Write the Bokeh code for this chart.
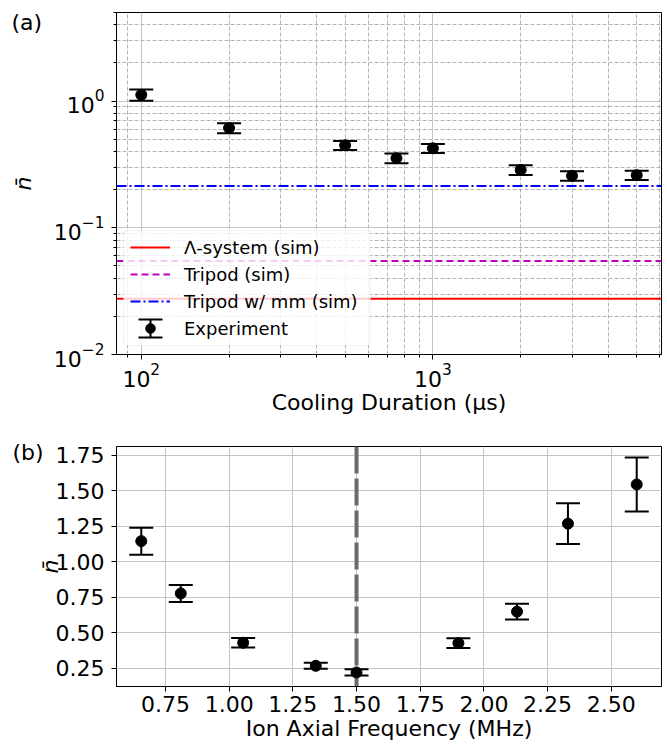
import math
from bokeh.plotting import figure
from bokeh.layouts import column
from bokeh.models import (ColumnDataSource, Whisker, TeeHead, Legend, LegendItem, Title, Arrow,
                          BoxAnnotation, FixedTicker, NumeralTickFormatter, LogTickFormatter, Span,
                          Range1d)
from bokeh.embed import file_html
from bokeh.resources import INLINE

FONT = "DejaVu Sans"

# ---------------- data: panel (a) ----------------
cool_time_us = [100, 200, 500, 750, 1000, 2000, 3000, 5000]
cool_nbar = [1.12, 0.613, 0.448, 0.354, 0.424, 0.286, 0.257, 0.260]
cool_err = [0.115, 0.055, 0.037, 0.031, 0.035, 0.025, 0.022, 0.022]
lambda_sim = 0.0275
tripod_sim = 0.0547
tripod_mm_sim = 0.214
top_y_limits = [0.01, 5.0]
a_xticks = [100, 1000]
a_yticks = [0.01, 0.1, 1.0]
a_xminor = [m * 10 ** k for k in (1, 2, 3) for m in range(2, 10)]
a_yminor = [m * 10 ** k for k in (-2, -1, 0) for m in range(2, 10)]

# ---------------- data: panel (b) ----------------
freq_mhz = [0.655, 0.81, 1.055, 1.34, 1.50, 1.90, 2.13, 2.33, 2.60]
freq_nbar = [1.145, 0.777, 0.430, 0.268, 0.221, 0.427, 0.649, 1.268, 1.544]
freq_err = [0.095, 0.060, 0.034, 0.021, 0.022, 0.034, 0.055, 0.143, 0.190]
resonance_mhz = 1.5
b_xticks = [0.75, 1.00, 1.25, 1.50, 1.75, 2.00, 2.25, 2.50]
b_yticks = [0.25, 0.50, 0.75, 1.00, 1.25, 1.50, 1.75]

TICK_PX = "22px"
LEG_PX = "18px"


def style_axes(p):
    for ax in (p.xaxis[0], p.yaxis[0]):
        ax.major_label_text_font = FONT
        ax.major_label_text_font_size = TICK_PX
        ax.major_label_text_color = "black"
        ax.axis_label_text_font = FONT
        ax.axis_label_text_font_size = TICK_PX
        ax.axis_label_text_color = "black"
        ax.axis_line_color = "black"
        ax.major_tick_line_color = "black"
        ax.minor_tick_line_color = "black"
        ax.major_tick_out = 5
        ax.major_tick_in = 0
        ax.minor_tick_out = 3
        ax.minor_tick_in = 0
    p.xaxis.major_label_standoff = 3
    p.yaxis.major_label_standoff = 7
    p.xaxis.axis_label_text_font_style = "normal"
    p.yaxis.axis_label_text_font_style = "italic"
    p.outline_line_color = "black"
    p.outline_line_width = 1
    p.background_fill_color = "white"
    p.border_fill_color = "white"


def panel_tag(p, text, offset, standoff):
    p.add_layout(Title(text=text, align="left", offset=offset, standoff=standoff,
                       text_font=FONT, text_font_size=TICK_PX, text_font_style="normal",
                       text_color="black"), "above")


# ================= panel (a) =================
lx = [math.log10(v) for v in cool_time_us]
span = max(lx) - min(lx)
x_lo = 10 ** (min(lx) - 0.05 * span)
x_hi = 10 ** (max(lx) + 0.05 * span)

p1 = figure(width=667, height=420, x_axis_type="log", y_axis_type="log",
            x_range=Range1d(x_lo, x_hi), y_range=Range1d(*top_y_limits),
            output_backend="svg", toolbar_location=None,
            min_border_left=115, min_border_right=5, min_border_top=12, min_border_bottom=66)
style_axes(p1)
p1.xaxis.ticker = FixedTicker(ticks=a_xticks, minor_ticks=a_xminor)
p1.yaxis.ticker = FixedTicker(ticks=a_yticks, minor_ticks=a_yminor)
p1.xaxis.formatter = LogTickFormatter()
p1.yaxis.formatter = LogTickFormatter()
for g in (p1.xgrid[0], p1.ygrid[0]):
    g.grid_line_color = "#c4c4c4"
    g.grid_line_width = 1
    g.minor_grid_line_color = "#b4b4b4"
    g.minor_grid_line_width = 1
    g.minor_grid_line_dash = "4 2"

r_lam = p1.line([x_lo, x_hi], [lambda_sim, lambda_sim], line_color="#ff0000", line_width=2)
r_tri = p1.line([x_lo, x_hi], [tripod_sim, tripod_sim], line_color="#bf00bf", line_width=2,
                line_dash="7 4")
r_mm = p1.line([x_lo, x_hi], [tripod_mm_sim, tripod_mm_sim], line_color="#0000ff", line_width=2,
               line_dash="10 3 2 3")

src1 = ColumnDataSource(dict(x=cool_time_us, y=cool_nbar,
                             lo=[a - b for a, b in zip(cool_nbar, cool_err)],
                             hi=[a + b for a, b in zip(cool_nbar, cool_err)]))
p1.add_layout(Whisker(base="x", lower="lo", upper="hi", source=src1, line_color="black", line_width=2,
                      lower_head=TeeHead(size=24, line_width=2, line_color="black"),
                      upper_head=TeeHead(size=24, line_width=2, line_color="black")))
r_exp = p1.scatter("x", "y", source=src1, size=11, color="black")

# legend frame (semi-transparent), then the error-bar symbol, then the legend entries
p1.add_layout(BoxAnnotation(left=7, right=254, bottom=9, top=124,
                            left_units="screen", right_units="screen",
                            bottom_units="screen", top_units="screen",
                            fill_color="white", fill_alpha=0.8,
                            line_color="#d4d4d4", line_width=1, border_radius=4))
p1.add_layout(Arrow(x_start=34, y_start=17, x_end=34, y_end=35, start_units="screen", end_units="screen",
                    line_color="black", line_width=2,
                    start=TeeHead(size=24, line_width=2, line_color="black"),
                    end=TeeHead(size=24, line_width=2, line_color="black")))
leg = Legend(items=[LegendItem(label="Λ-system (sim)", renderers=[r_lam]),
                    LegendItem(label="Tripod (sim)", renderers=[r_tri]),
                    LegendItem(label="Tripod w/ mm (sim)", renderers=[r_mm]),
                    LegendItem(label="Experiment", renderers=[r_exp])],
             location="bottom_left", margin=14, padding=0, spacing=3,
             glyph_width=40, glyph_height=24, label_height=24, label_standoff=14,
             label_text_font=FONT, label_text_font_size=LEG_PX, label_text_color="black",
             background_fill_alpha=0, border_line_color=None)
p1.add_layout(leg, "center")

p1.yaxis.axis_label = "n̄"
p1.yaxis.axis_label_standoff = 15
p1.xaxis.axis_label = "Cooling Duration (μs)"
p1.xaxis.axis_label_standoff = 0
panel_tag(p1, "(a)", -105, -44)

# ================= panel (b) =================
lows = [a - b for a, b in zip(freq_nbar, freq_err)]
highs = [a + b for a, b in zip(freq_nbar, freq_err)]
xs = max(freq_mhz) - min(freq_mhz)
ys = max(highs) - min(lows)
p2 = figure(width=667, height=326,
            x_range=Range1d(min(freq_mhz) - 0.05 * xs, max(freq_mhz) + 0.05 * xs),
            y_range=Range1d(min(lows) - 0.05 * ys, max(highs) + 0.05 * ys),
            output_backend="svg", toolbar_location=None,
            min_border_left=116, min_border_right=6, min_border_top=26, min_border_bottom=60)
style_axes(p2)
p2.xaxis.ticker = FixedTicker(ticks=b_xticks)
p2.yaxis.ticker = FixedTicker(ticks=b_yticks)
p2.xaxis.formatter = NumeralTickFormatter(format="0.00")
p2.yaxis.formatter = NumeralTickFormatter(format="0.00")
p2.xaxis.major_label_standoff = 4
for g in (p2.xgrid[0], p2.ygrid[0]):
    g.grid_line_color = "#c4c4c4"
    g.grid_line_width = 1

p2.add_layout(Span(location=resonance_mhz, dimension="height", line_color="#6a6a6a", line_width=4,
                   line_dash="27 5", level="underlay"))
src2 = ColumnDataSource(dict(x=freq_mhz, y=freq_nbar, lo=lows, hi=highs))
p2.add_layout(Whisker(base="x", lower="lo", upper="hi", source=src2, line_color="black", line_width=2,
                      lower_head=TeeHead(size=24, line_width=2, line_color="black"),
                      upper_head=TeeHead(size=24, line_width=2, line_color="black")))
p2.scatter("x", "y", source=src2, size=11, color="black")

p2.yaxis.axis_label = "n̄"
p2.yaxis.axis_label_standoff = -10
p2.xaxis.axis_label = "Ion Axial Frequency (MHz)"
p2.xaxis.axis_label_standoff = 1
panel_tag(p2, "(b)", -104, -36)

layout = column(p1, p2, spacing=0)
open("out.html", "w").write(file_html(layout, INLINE))
